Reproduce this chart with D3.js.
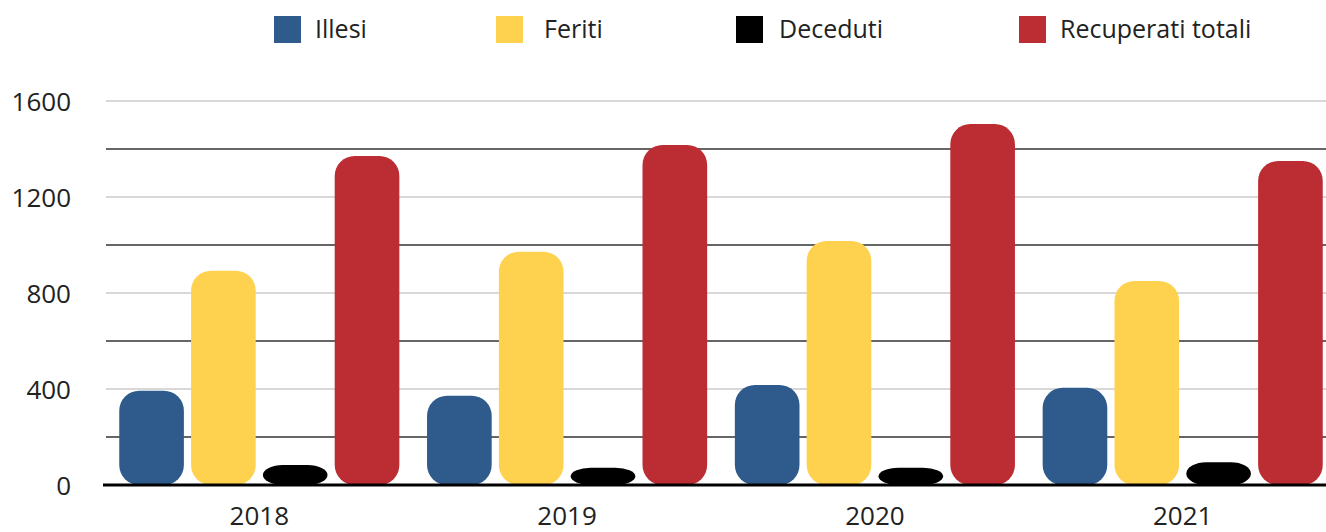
<!DOCTYPE html>
<html>
<head>
<meta charset="utf-8">
<script src="https://cdn.jsdelivr.net/npm/d3@7"></script>
<style>
    html, body { margin: 0; padding: 0; background: #fff; }
    svg { display: block; font-family: "Open Sans", sans-serif; }
</style>
</head>
<body>
<svg id="chart"></svg>
<script>
// data
const years = ["2018", "2019", "2020", "2021"];
const seriesNames = ["Illesi", "Feriti", "Deceduti", "Recuperati totali"];
const illesi = [393, 372, 417, 405];
const feriti = [893, 972, 1017, 850];
const deceduti = [83, 72, 72, 95];
const recuperati = [1371, 1417, 1504, 1350];
const majorTicks = [0, 400, 800, 1200, 1600];
const minorTicks = [200, 600, 1000, 1400];
const colors = ["#2f5a8c", "#fed24f", "#000000", "#bb2d32"];

const width = 1326;
const height = 532;

const svg = d3.select("#chart")
    .attr("width", width)
    .attr("height", height);

const values = [illesi, feriti, deceduti, recuperati];
const rows = years.map((yr, i) => ({
    year: yr,
    bars: seriesNames.map((s, j) => ({ name: s, value: values[j][i], color: colors[j] }))
}));

/*plot runs past the right edge of the picture, like the original*/
const x = d3.scaleBand()
    .domain(years)
    .range([105.4, 1336.6])
    .paddingInner(0.09)
    .paddingOuter(0.045);

const xs = d3.scaleBand()
    .domain(seriesNames)
    .range([0, x.bandwidth()])
    .paddingInner(0.1);

const y = d3.scaleLinear()
    .domain([0, 1600])
    .range([485, 101]);

// light grid on labelled ticks, dark on the ones between
svg.append("g")
    .selectAll("line")
    .data(majorTicks.filter((d) => d > 0))
    .join("line")
    .attr("x1", 106)
    .attr("x2", width)
    .attr("y1", (d) => y(d))
    .attr("y2", (d) => y(d))
    .attr("stroke", "#cbcbcb")
    .attr("stroke-width", 1.5);

svg.append("g")
    .selectAll("line")
    .data(minorTicks)
    .join("line")
    .attr("x1", 106)
    .attr("x2", width)
    .attr("y1", (d) => y(d))
    .attr("y2", (d) => y(d))
    .attr("stroke", "#333")
    .attr("stroke-width", 1.5);

// y labels
const yAxis = svg.append("g")
    .attr("transform", "translate(71,0)")
    .call(d3.axisLeft(y).tickValues(majorTicks).tickFormat(d3.format("d")).tickSize(0).tickPadding(0));
yAxis.select(".domain").remove();
yAxis.selectAll("text")
    .attr("font-size", 26)
    .attr("font-family", "Open Sans, sans-serif")
    .attr("fill", "#222")
    .attr("dy", "0.36em");

// bars
const groups = svg.append("g")
    .selectAll("g")
    .data(rows)
    .join("g")
    .attr("transform", (d) => `translate(${x(d.year)},0)`);

groups.selectAll("rect")
    .data((d) => d.bars)
    .join("rect")
    .attr("x", (d) => xs(d.name))
    .attr("y", (d) => y(d.value))
    .attr("width", xs.bandwidth())
    .attr("height", (d) => y(0) - y(d.value))
    .attr("rx", 20)
    .attr("ry", 20)
    .attr("fill", (d) => d.color);

// baseline
svg.append("line")
    .attr("x1", 103)
    .attr("x2", width)
    .attr("y1", y(0))
    .attr("y2", y(0))
    .attr("stroke", "#000")
    .attr("stroke-width", 3);

// x labels
const xAxis = svg.append("g")
    .attr("transform", "translate(0,500)")
    .call(d3.axisBottom(x).tickSize(0).tickPadding(0));
xAxis.select(".domain").remove();
xAxis.selectAll("text")
    .attr("font-size", 26)
    .attr("font-family", "Open Sans, sans-serif")
    .attr("fill", "#222")
    .attr("dy", "0.95em");

// legend
const legendX = [274, 496, 736, 1019];
const textOffset = [41, 48, 43, 41];
const legend = svg.append("g")
    .selectAll("g")
    .data(seriesNames)
    .join("g")
    .attr("transform", (d, i) => `translate(${legendX[i]},16)`);

legend.append("rect")
    .attr("width", 27)
    .attr("height", 27)
    .attr("fill", (d, i) => colors[i]);

legend.append("text")
    .attr("x", (d, i) => textOffset[i])
    .attr("y", 22)
    .attr("font-size", 25)
    .attr("fill", "#222")
    .text((d) => d);
</script>
</body>
</html>
